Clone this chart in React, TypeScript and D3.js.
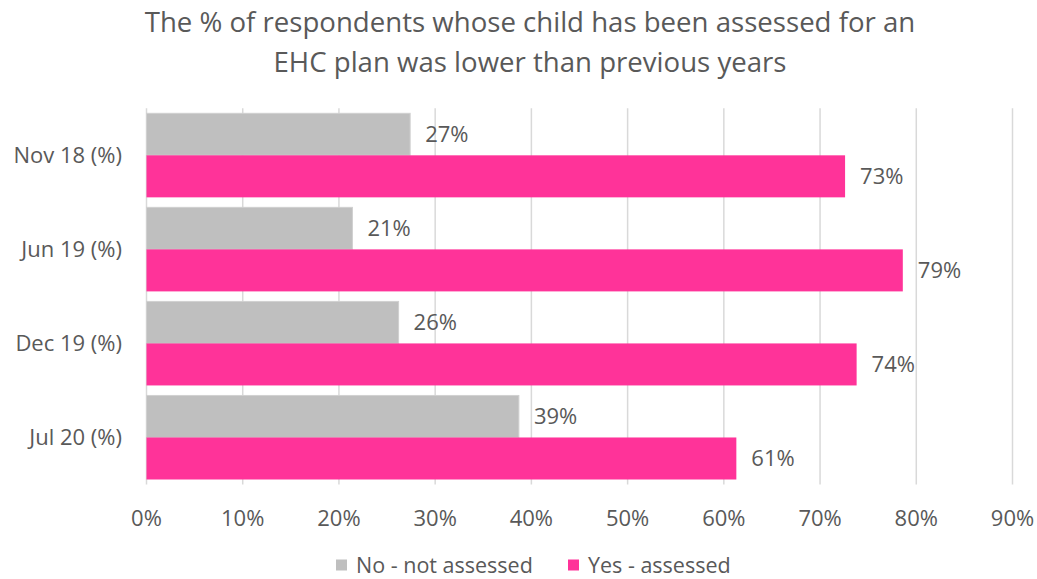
import React from "react";
import * as d3 from "d3";

const categories = ["Nov 18 (%)", "Jun 19 (%)", "Dec 19 (%)", "Jul 20 (%)"];
const seriesNames = ["No - not assessed", "Yes - assessed"];
const noValues = [27.4, 21.4, 26.2, 38.7];
const yesValues = [72.6, 78.6, 73.8, 61.3];
const xTicks = [0, 10, 20, 30, 40, 50, 60, 70, 80, 90];
const titleLines = [
  "The % of respondents whose child has been assessed for an",
  "EHC plan was lower than previous years",
];

const W = 1037;
const H = 579;
const FONT = "'Open Sans', 'Noto Sans', sans-serif";
const TEXT = "#595959";
const GRAY = "#BFBFBF";
const PINK = "#FF3399";

export default function App() {
  const left = 146.5;
  const right = 1012.5;
  const top = 108.3;
  const bottom = 484.5;

  const x = d3.scaleLinear().domain([0, 90]).range([left, right]);
  const y = d3
    .scaleBand<string>()
    .domain(categories)
    .range([top, bottom])
    .paddingInner(10 / 94)
    .paddingOuter(5 / 94);
  const inner = d3
    .scaleBand<string>()
    .domain(seriesNames)
    .range([0, y.bandwidth()]);

  const series = [
    { name: seriesNames[0], values: noValues, color: GRAY },
    { name: seriesNames[1], values: yesValues, color: PINK },
  ];

  const legendBaseline = 573;

  return (
    <svg
      width={W}
      height={H}
      style={{ display: "block", background: "#fff", position: "fixed", left: 0, top: 0 }}
      fontFamily={FONT}
    >
      {titleLines.map((t, i) => (
        <text
          key={i}
          x={530}
          y={32 + i * 39.5}
          textAnchor="middle"
          fontSize={27.6}
          fill={TEXT}
        >
          {t}
        </text>
      ))}
      {xTicks.map((t) => (
        <line
          key={t}
          x1={x(t)}
          x2={x(t)}
          y1={top}
          y2={bottom}
          stroke="#D9D9D9"
          strokeWidth={1.5}
        />
      ))}
      {series.map((s) =>
        categories.map((c, i) => {
          const by = (y(c) as number) + (inner(s.name) as number);
          const bh = inner.bandwidth();
          const bx = x(0);
          const bw = x(s.values[i]) - x(0);
          return (
            <g key={s.name + c}>
              <rect
                x={bx}
                y={by}
                width={bw}
                height={bh}
                fill={s.color}
                stroke={s.color === GRAY ? "#D0D0D0" : "none"}
                strokeWidth={1}
              />
              <text
                x={x(s.values[i]) + 15}
                y={by + bh / 2}
                dy="0.35em"
                fontSize={22}
                fill={TEXT}
              >
                {Math.round(s.values[i]) + "%"}
              </text>
            </g>
          );
        })
      )}
      {categories.map((c) => (
        <text
          key={c}
          x={122}
          y={(y(c) as number) + y.bandwidth() / 2}
          dy="0.35em"
          textAnchor="end"
          fontSize={22}
          fill={TEXT}
        >
          {c}
        </text>
      ))}
      {xTicks.map((t) => (
        <text
          key={t}
          x={x(t)}
          y={518}
          dy="0.35em"
          textAnchor="middle"
          fontSize={22}
          fill={TEXT}
        >
          {t + "%"}
        </text>
      ))}
      {series.map((s, i) => {
        const lx = i === 0 ? 336 : 568;
        return (
          <g key={s.name}>
            <rect x={lx} y={legendBaseline - 13.5} width={11} height={11} fill={s.color} />
            <text x={lx + 20} y={legendBaseline} fontSize={21.5} fill={TEXT}>
              {s.name}
            </text>
          </g>
        );
      })}
    </svg>
  );
}
